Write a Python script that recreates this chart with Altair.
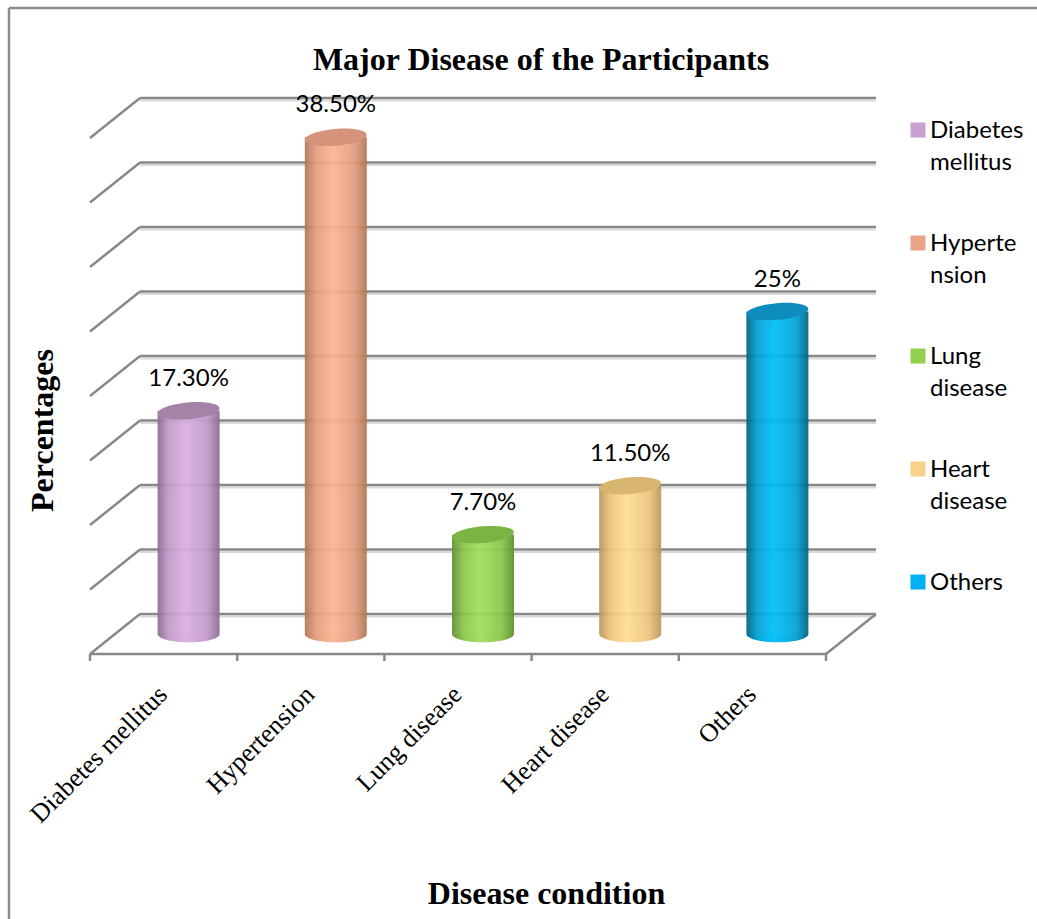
import json

import altair as alt
import pandas as pd

# ---- chart values -------------------------------------------------------
CATEGORIES = ["Diabetes mellitus", "Hypertension", "Lung disease", "Heart disease", "Others"]
PERCENTAGES = [17.3, 38.5, 7.7, 11.5, 25.0]
VALUE_LABELS = ["17.30%", "38.50%", "7.70%", "11.50%", "25%"]
LEGEND_LINES = [["Diabetes", "mellitus"], ["Hyperte", "nsion"], ["Lung", "disease"],
                ["Heart", "disease"], ["Others"]]
LEGEND_COLORS = ["#C8A0D2", "#E9A485", "#92D050", "#F9D28A", "#00B0F0"]
# cylinder shading per series: edge, shoulder, highlight, cap
SHADES = [
    ("#8B6B91", "#C29ACA", "#DAAEE2", "#A583A9"),
    ("#B07456", "#E39D7D", "#FAB48F", "#D4937A"),
    ("#5E8E2E", "#89C64B", "#A0DE5E", "#7CB444"),
    ("#B8975A", "#ECC47C", "#FFDD92", "#D9B670"),
    ("#00607F", "#00A3D6", "#00BFF7", "#0E8CBD"),
]
Y_TICKS = [0, 5, 10, 15, 20, 25, 30, 35, 40]

# ---- geometry ------------------------------------------------------------
W, H = 746, 516
PAD = {"left": 110, "top": 118, "right": 181, "bottom": 285}
DX, DY = 25, 20          # half depth of the floor / side wall
BAR_W = 62
GRID = "#888888"
SERIF = "Liberation Serif"

df = pd.DataFrame({
    "category": CATEGORIES,
    "value": PERCENTAGES,
    "label": VALUE_LABELS,
    "legend": ["|".join(l) for l in LEGEND_LINES],
    "pos": [i + 0.5 for i in range(len(CATEGORIES))],
})
grid_df = pd.DataFrame({"v": Y_TICKS})
bounds_df = pd.DataFrame({"b": list(range(len(CATEGORIES) + 1))})
one = pd.DataFrame({"k": [0]})

XS = alt.Scale(domain=[0, len(CATEGORIES)], nice=False, zero=False)
YS = alt.Scale(domain=[0, Y_TICKS[-1]], nice=False)


def xd(v):
    return alt.XDatum(v, scale=XS)


def yd(v):
    return alt.YDatum(v, scale=YS)


def gradient(edge, shoulder, light):
    return alt.LinearGradient(
        gradient="linear", x1=0, x2=1, y1=0, y2=0,
        stops=[
            alt.GradientStop(color=edge, offset=0),
            alt.GradientStop(color=shoulder, offset=0.18),
            alt.GradientStop(color=light, offset=0.45),
            alt.GradientStop(color=shoulder, offset=0.8),
            alt.GradientStop(color=edge, offset=1),
        ],
    )


# axes and legend live on one carrier layer; the other layers share its scales
x_axis = alt.Axis(
    title="Disease condition", values=[i + 0.5 for i in range(len(CATEGORIES))],
    labelExpr=json.dumps(CATEGORIES) + "[floor(datum.value)]",
    labelAngle=-45, labelAlign="right", labelBaseline="middle",
    labelFont=SERIF, labelFontSize=26, labelColor="black", labelLimit=400,
    labelPadding=56, labelOffset=-26, labelOverlap=False, labelFlush=False,
    ticks=False, domain=False, grid=False,
    titleFont=SERIF, titleFontSize=32, titleFontWeight="bold", titleColor="black",
    titleX=436, titleY=259, titleAlign="center", titleBaseline="middle",
)
y_axis = alt.Axis(
    title="Percentages", labels=False, ticks=False, domain=False, grid=False,
    titleFont=SERIF, titleFontSize=32, titleFontWeight="bold", titleColor="black",
    titleAngle=270, titleX=-68, titleY=312, titleAlign="center", titleBaseline="middle",
)
# legend swatch: a square nudged down so it sits beside the first text line
SQUARE = "M-1,0.47 L1,0.47 L1,2.47 L-1,2.47 Z"
legend = alt.Legend(
    title=None, orient="none", legendX=796, legendY=-11, direction="vertical",
    symbolType=SQUARE, symbolSize=225, symbolStrokeWidth=0, symbolOpacity=1,
    labelExpr="split(datum.label, '|')", labelFont="Lato", labelFontSize=24,
    labelColor="black", labelBaseline="top", labelOffset=0, labelLimit=200,
    rowPadding=45, padding=0,
)

layers = []

layers.append(alt.Chart(df).mark_square(size=0, opacity=1).encode(
    x=alt.X("pos:Q", scale=XS, axis=x_axis),
    y=alt.Y("value:Q", scale=YS, axis=y_axis),
    color=alt.Color("legend:N", sort=None,
                    scale=alt.Scale(domain=["|".join(l) for l in LEGEND_LINES], range=LEGEND_COLORS),
                    legend=legend),
))

# outer frame (top and left edges)
layers.append(alt.Chart(one).mark_rule(color="#8c8c8c", strokeWidth=2.5).encode(
    x=alt.value(-101), x2=alt.value(W + PAD["right"]), y=alt.value(-110)))
layers.append(alt.Chart(one).mark_rule(color="#8c8c8c", strokeWidth=2.5).encode(
    x=alt.value(-101), y=alt.value(-110), y2=alt.value(H + PAD["bottom"])))

# back wall gridlines with a soft shadow line
layers.append(alt.Chart(grid_df).mark_rule(
    color="#d9d9d9", strokeWidth=2, xOffset=DX, x2Offset=DX, yOffset=-DY + 2.5, y2Offset=-DY + 2.5
).encode(x=xd(0), x2=alt.X2Datum(len(CATEGORIES)),
         y=alt.Y("v:Q", scale=YS), y2="v:Q"))
layers.append(alt.Chart(grid_df).mark_rule(
    color=GRID, strokeWidth=2.5, xOffset=DX, x2Offset=DX, yOffset=-DY, y2Offset=-DY
).encode(x=xd(0), x2=alt.X2Datum(len(CATEGORIES)),
         y=alt.Y("v:Q", scale=YS), y2="v:Q"))

# side wall diagonals
layers.append(alt.Chart(grid_df).mark_rule(
    color=GRID, strokeWidth=2.5, xOffset=DX, x2Offset=-DX, yOffset=-DY, y2Offset=DY
).encode(x=xd(0), x2=alt.X2Datum(0),
         y=alt.Y("v:Q", scale=YS), y2="v:Q"))

# floor: front edge and right edge
layers.append(alt.Chart(one).mark_rule(
    color=GRID, strokeWidth=2.5, xOffset=-DX, x2Offset=-DX, yOffset=DY, y2Offset=DY
).encode(x=xd(0), x2=alt.X2Datum(len(CATEGORIES)), y=yd(0), y2=alt.Y2Datum(0)))
layers.append(alt.Chart(one).mark_rule(
    color=GRID, strokeWidth=2.5, xOffset=DX, x2Offset=-DX, yOffset=-DY, y2Offset=DY
).encode(x=xd(len(CATEGORIES)), x2=alt.X2Datum(len(CATEGORIES)), y=yd(0), y2=alt.Y2Datum(0)))

# category ticks on the front floor edge
layers.append(alt.Chart(bounds_df).mark_rule(
    color=GRID, strokeWidth=2.5, xOffset=-DX, yOffset=DY, y2Offset=DY + 7
).encode(x=alt.X("b:Q", scale=XS), y=yd(0), y2=alt.Y2Datum(0)))

# cylinders
r = 0.27
BOTTOM = f"M-1,0 A1,{r} 0 0,0 1,0 Z"
CAP = f"M-1,0 A1,{r} 0 1,1 1,0 A1,{r} 0 1,1 -1,0 Z"
for cat, (edge, shoulder, light, cap) in zip(CATEGORIES, SHADES):
    base = alt.Chart(df).transform_filter(alt.datum.category == cat)
    fill = gradient(edge, shoulder, light)
    layers.append(base.mark_point(
        shape=BOTTOM, size=BAR_W ** 2, filled=True, fill=fill, opacity=0.95, strokeWidth=0
    ).encode(x=alt.X("pos:Q", scale=XS), y=yd(0)))
    layers.append(base.mark_bar(
        width=BAR_W, fill=fill, fillOpacity=0.93, strokeWidth=0
    ).encode(x=alt.X("pos:Q", scale=XS), y=alt.Y("value:Q", scale=YS)))
    layers.append(base.mark_point(
        shape=CAP, size=BAR_W ** 2, filled=True, fill=cap, opacity=1, strokeWidth=0, angle=355
    ).encode(x=alt.X("pos:Q", scale=XS), y=alt.Y("value:Q", scale=YS)))

# value labels
layers.append(alt.Chart(df).mark_text(
    font="Lato", fontSize=24, color="black", dy=-32, baseline="middle", align="center"
).encode(x=alt.X("pos:Q", scale=XS), y=alt.Y("value:Q", scale=YS), text="label:N"))

# chart title
layers.append(alt.Chart(one).mark_text(
    font=SERIF, fontSize=32, fontWeight="bold", color="black",
    align="center", baseline="middle"
).encode(x=alt.value(431), y=alt.value(-58), text=alt.value("Major Disease of the Participants")))

chart = alt.layer(*layers).properties(
    width=W, height=H, padding=PAD, autosize=alt.AutoSizeParams(type="none"),
    background="white",
).configure(
    view=alt.ViewConfig(strokeWidth=0, stroke="transparent"),
    style={"guide-label": {"lineHeight": 32}},
)

chart.save("out.html", embed_options={"renderer": "svg", "actions": False})
